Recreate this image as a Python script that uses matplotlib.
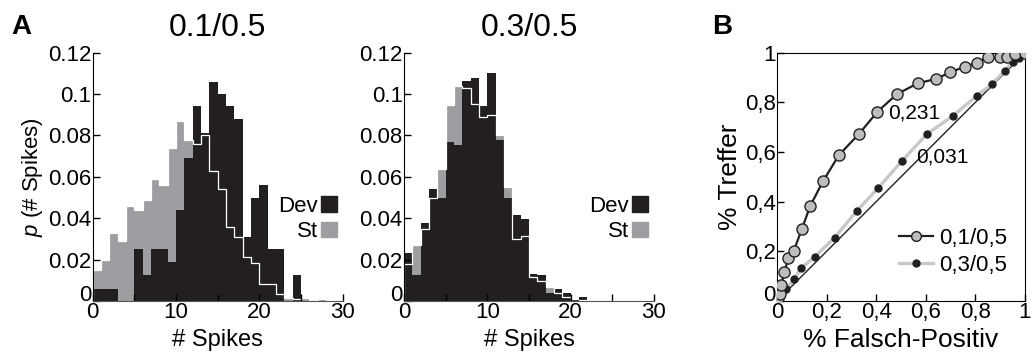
import numpy as np
import matplotlib.pyplot as plt
import matplotlib.transforms as mtransforms
from matplotlib.patches import Patch
from matplotlib.lines import Line2D

plt.rcParams['font.family'] = ['Liberation Sans', 'DejaVu Sans']
plt.rcParams['mathtext.fontset'] = 'custom'
plt.rcParams['mathtext.it'] = 'Liberation Sans:italic'
plt.rcParams['mathtext.rm'] = 'Liberation Sans'

# spike count histograms, bins of width 1 starting at 0
edges = np.arange(0, 31)

dev_01 = [0.006, 0.006, 0.006, 0, 0, 0.025, 0.0125, 0.025, 0.025, 0.019,
          0.044, 0.069, 0.094, 0.081, 0.106, 0.100, 0.094, 0.088, 0.031, 0.050,
          0.056, 0.025, 0.025, 0, 0.0125, 0, 0, 0, 0, 0]
st_01 = [0.015, 0.020, 0.033, 0.029, 0.046, 0.044, 0.049, 0.059, 0.056, 0.074,
         0.087, 0.078, 0.076, 0.080, 0.063, 0.054, 0.036, 0.031, 0.0215, 0.0185,
         0.008, 0.008, 0.0035, 0.0015, 0.001, 0.0015, 0.0005, 0.0008, 0.0005, 0]

dev_03 = [0.023, 0.0125, 0.0375, 0.054, 0.050, 0.077, 0.0755, 0.1065, 0.108, 0.094,
          0.110, 0.0776, 0.050, 0.0415, 0.0395, 0.013, 0.0125, 0.004, 0.006, 0.004,
          0.0005, 0.002, 0, 0, 0, 0, 0, 0, 0, 0]
st_03 = [0.018, 0.027, 0.035, 0.050, 0.064, 0.0945, 0.104, 0.103, 0.095, 0.089,
         0.090, 0.080, 0.055, 0.030, 0.0315, 0.0118, 0.0098, 0.007, 0.004, 0.002,
         0, 0.0005, 0, 0, 0, 0, 0, 0, 0, 0]

y_ticks = [0, 0.02, 0.04, 0.06, 0.08, 0.1, 0.12]
y_ticklabels = ['0', '0.02', '0.04', '0.06', '0.08', '0.1', '0.12']
x_ticks = [0, 10, 20, 30]

# ROC curves
fp_01 = [0, 0.005, 0.012, 0.017, 0.03, 0.046, 0.068, 0.1, 0.134, 0.186, 0.25, 0.329,
         0.405, 0.482, 0.568, 0.641, 0.699, 0.758, 0.807, 0.850, 0.898, 0.927,
         0.960, 1.0]
hit_01 = [0, 0.012, 0.03, 0.064, 0.118, 0.172, 0.203, 0.289, 0.383, 0.483, 0.588, 0.671,
          0.762, 0.832, 0.877, 0.894, 0.921, 0.944, 0.960, 0.981, 0.981, 0.981,
          0.995, 1.0]
fp_03 = [0, 0.035, 0.068, 0.097, 0.153, 0.232, 0.323, 0.409, 0.505, 0.604, 0.710,
         0.805, 0.867, 0.918, 0.951, 0.977, 1.0]
hit_03 = [0, 0.047, 0.087, 0.132, 0.179, 0.255, 0.364, 0.456, 0.565, 0.672, 0.746,
          0.826, 0.874, 0.927, 0.964, 0.980, 1.0]
roc_ticks = [0, 0.2, 0.4, 0.6, 0.8, 1]
roc_ticklabels = ['0', '0,2', '0,4', '0,6', '0,8', '1']

BLACK = '#231f20'
GRAY = '#9c9ea1'
FS = 16

fig = plt.figure(figsize=(10.32, 3.55), dpi=100)
ax1 = fig.add_axes([0.0898, 0.1521, 0.2422, 0.6995])
ax2 = fig.add_axes([0.3915, 0.1521, 0.2422, 0.6995])
ax3 = fig.add_axes([0.7529, 0.1521, 0.2403, 0.6995])


def lift_zero_label(ax):
    # the y "0" sits on the axis line, clear of the x "0"
    lab = ax.get_yticklabels()[0]
    lab.set_transform(lab.get_transform() +
                      mtransforms.ScaledTranslation(0, 6 / 72, fig.dpi_scale_trans))


for ax, dev, st, title in [(ax1, dev_01, st_01, '0.1/0.5'), (ax2, dev_03, st_03, '0.3/0.5')]:
    ax.stairs(st, edges, fill=True, color=GRAY, lw=0)
    ax.stairs(dev, edges, fill=True, color=BLACK, lw=0)
    ax.stairs(st, edges, color='white', lw=0.9)
    ax.set_xlim(0, 30)
    ax.set_ylim(0, 0.12)
    ax.set_xticks(x_ticks)
    ax.set_xticks([5, 15, 25], minor=True)
    ax.set_yticks(y_ticks)
    ax.set_yticklabels(y_ticklabels)
    ax.tick_params(direction='in', labelsize=FS, length=5, width=1, pad=1)
    ax.tick_params(which='minor', direction='in', length=5, width=1)
    for s in ['top', 'right']:
        ax.spines[s].set_visible(False)
    ax.spines['bottom'].set_color('#555555')
    ax.set_xlabel('# Spikes', fontsize=17, labelpad=4)
    ax.set_title(title, fontsize=23, pad=12)
    handles = [Patch(color=BLACK), Patch(color=GRAY)]
    ax.legend(handles, ['Dev', 'St'], loc='center right', bbox_to_anchor=(1.02, 0.33),
              frameon=False, markerfirst=False, fontsize=FS, handlelength=0.7,
              handleheight=0.7, handletextpad=0.15, labelspacing=0.2, borderpad=0,
              alignment='right')
    lift_zero_label(ax)

ax1.set_ylabel('$p$ (# Spikes)', fontsize=16, labelpad=2)

ax3.plot([0, 1], [0, 1], color=BLACK, lw=1)
ax3.plot(fp_03, hit_03, color='#c8c8c8', lw=2.4, marker='o', ms=5,
         mfc=BLACK, mec=BLACK, zorder=3)
ax3.plot(fp_01, hit_01, color=BLACK, lw=1.6, marker='o', ms=8,
         mfc='#bdbdbd', mec=BLACK, mew=1, zorder=4)
ax3.set_xlim(0, 1)
ax3.set_ylim(0, 1)
ax3.set_xticks(roc_ticks)
ax3.set_xticklabels(roc_ticklabels)
ax3.set_yticks(roc_ticks)
ax3.set_yticklabels(roc_ticklabels)
ax3.tick_params(direction='in', labelsize=FS, length=5, width=1, pad=1)
ax3.set_xlabel('% Falsch-Positiv', fontsize=19, labelpad=3)
ax3.set_ylabel('% Treffer', fontsize=19, labelpad=2)
lift_zero_label(ax3)
ax3.text(0.45, 0.756, '0,231', fontsize=15, va='center', ha='left')
ax3.text(0.562, 0.581, '0,031', fontsize=15, va='center', ha='left')
leg_handles = [
    Line2D([], [], color=BLACK, lw=1.6, marker='o', ms=7, mfc='#bdbdbd', mec=BLACK),
    Line2D([], [], color='#c8c8c8', lw=2.4, marker='o', ms=5, mfc=BLACK, mec=BLACK),
]
ax3.legend(leg_handles, ['0,1/0,5', '0,3/0,5'], loc='lower right',
           bbox_to_anchor=(1.0, 0.03), frameon=False, fontsize=FS,
           handlelength=1.5, handletextpad=0.3, labelspacing=0.25, borderpad=0.3)

fig.text(0.011, 0.905, 'A', fontsize=20, fontweight='bold')
fig.text(0.690, 0.905, 'B', fontsize=20, fontweight='bold')

fig.savefig('out.png', dpi=100)
